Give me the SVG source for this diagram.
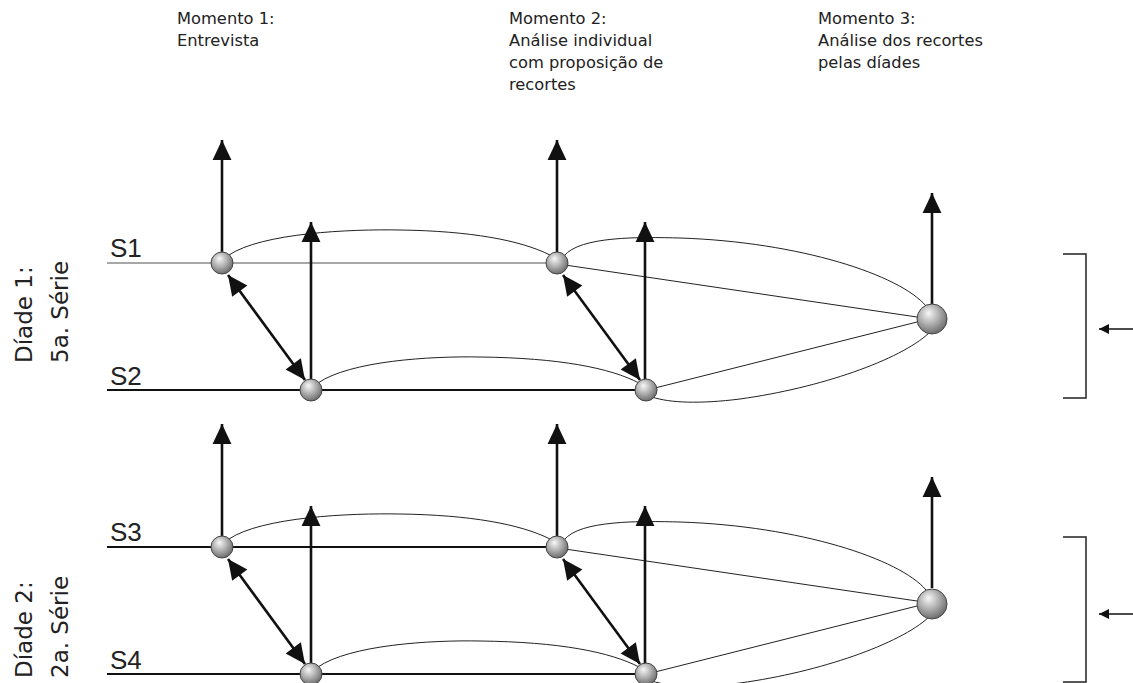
<svg xmlns="http://www.w3.org/2000/svg" width="1133" height="683" viewBox="0 0 1133 683">
<style>
.t{font-family:"DejaVu Sans","Liberation Sans",sans-serif;fill:#222}
.h{font-size:16.3px}
.v{font-size:23px}
.s{font-family:"Liberation Sans",sans-serif;font-size:26px;fill:#222}
.lineA{stroke:#8a8a8a;stroke-width:1.5;fill:none}
.lineB{stroke:#111;stroke-width:2.2;fill:none}
.curve{stroke:#222;stroke-width:1;fill:none}
.arr{stroke:#111;stroke-width:2.6;fill:none;marker-end:url(#ah)}
.darr{stroke:#111;stroke-width:2.6;fill:none;marker-end:url(#ah);marker-start:url(#ahs)}
.br{stroke:#222;stroke-width:1.5;fill:none}
.sm{stroke:#111;stroke-width:1.3;fill:none;marker-end:url(#sh)}
.nd{fill:url(#g);stroke:#444;stroke-width:1}
</style>
<defs>
<radialGradient id="g" cx="0.42" cy="0.38" r="0.7" fx="0.38" fy="0.3">
<stop offset="0" stop-color="#f8f8f8"/>
<stop offset="0.45" stop-color="#b4b4b4"/>
<stop offset="1" stop-color="#5e5e5e"/>
</radialGradient>
<marker id="ah" markerUnits="userSpaceOnUse" markerWidth="22" markerHeight="22" viewBox="-20 -10 21 20" refX="0" refY="0" orient="auto">
<path d="M0,0 L-19,-9 L-19,9 Z" fill="#111"/>
</marker>
<marker id="ahs" markerUnits="userSpaceOnUse" markerWidth="22" markerHeight="22" viewBox="-20 -10 21 20" refX="0" refY="0" orient="auto-start-reverse">
<path d="M0,0 L-19,-9 L-19,9 Z" fill="#111"/>
</marker>
<marker id="sh" markerUnits="userSpaceOnUse" markerWidth="12" markerHeight="12" viewBox="-11 -6 12 12" refX="0" refY="0" orient="auto">
<path d="M0,0 L-10,-5 L-10,5 Z" fill="#111"/>
</marker>
</defs>

<g id="headers" class="t h">
<text x="177" y="24">Momento 1:</text>
<text x="177" y="46">Entrevista</text>
<text x="509" y="24">Momento 2:</text>
<text x="509" y="46">Análise individual</text>
<text x="509" y="68">com proposição de</text>
<text x="509" y="90">recortes</text>
<text x="818" y="24">Momento 3:</text>
<text x="818" y="46">Análise dos recortes</text>
<text x="818" y="68">pelas díades</text>
</g>

<g id="dyad-labels" class="t v">
<text transform="translate(32,363) rotate(-90)">Díade 1:</text>
<text transform="translate(68,363) rotate(-90)">5a. Série</text>
<text transform="translate(32,678) rotate(-90)">Díade 2:</text>
<text transform="translate(68,678) rotate(-90)">2a. Série</text>
</g>

<g id="subject-labels" class="s">
<text x="110" y="257">S1</text>
<text x="110" y="385">S2</text>
<text x="110" y="541">S3</text>
<text x="110" y="669">S4</text>
</g>

<g id="connectors">
<line class="lineA" x1="107" y1="263" x2="557" y2="263"/>
<line class="lineB" x1="107" y1="390" x2="645" y2="390"/>
<path class="curve" d="M229,255 C262,233 350,229 400,230 C470,231 520,240 550,255"/>
<path class="curve" d="M318,383 C350,361 430,356 480,357 C560,358 610,368 639,383"/>
<path class="curve" d="M564,256 C580,236 640,237 680,238 C800,242 900,275 926,306"/>
<line class="curve" x1="565" y1="265" x2="917" y2="317"/>
<line class="curve" x1="655" y1="388" x2="917" y2="322"/>
<path class="curve" d="M652,397 C670,403 700,404 740,399 C820,388 900,360 929,333"/>
<line class="arr" x1="222" y1="252" x2="222" y2="140"/>
<line class="arr" x1="311" y1="380" x2="311" y2="222"/>
<line class="arr" x1="557" y1="252" x2="557" y2="140"/>
<line class="arr" x1="645" y1="380" x2="645" y2="222"/>
<line class="arr" x1="932" y1="304" x2="932" y2="193"/>
<line class="darr" x1="228" y1="275" x2="305" y2="380"/>
<line class="darr" x1="563" y1="275" x2="640" y2="380"/>
<polyline class="br" points="1063,254 1086,254 1086,398 1063,398"/>
<line class="sm" x1="1133" y1="329" x2="1099" y2="329"/>
<line class="lineB" x1="107" y1="547" x2="557" y2="547"/>
<line class="lineB" x1="107" y1="674" x2="645" y2="674"/>
<path class="curve" d="M229,539 C262,517 350,513 400,514 C470,515 520,524 550,539"/>
<path class="curve" d="M318,667 C350,645 430,640 480,641 C560,642 610,652 639,667"/>
<path class="curve" d="M564,540 C580,520 640,521 680,522 C800,526 900,559 926,590"/>
<line class="curve" x1="565" y1="549" x2="917" y2="601"/>
<line class="curve" x1="655" y1="672" x2="917" y2="606"/>
<path class="curve" d="M652,681 C670,687 700,688 740,683 C820,672 900,644 929,617"/>
<line class="arr" x1="222" y1="536" x2="222" y2="424"/>
<line class="arr" x1="311" y1="664" x2="311" y2="506"/>
<line class="arr" x1="557" y1="536" x2="557" y2="424"/>
<line class="arr" x1="645" y1="664" x2="645" y2="506"/>
<line class="arr" x1="932" y1="588" x2="932" y2="477"/>
<line class="darr" x1="228" y1="559" x2="305" y2="664"/>
<line class="darr" x1="563" y1="559" x2="640" y2="664"/>
<polyline class="br" points="1063,537 1086,537 1086,682 1063,682"/>
<line class="sm" x1="1133" y1="614" x2="1099" y2="614"/>
</g>

<g id="n-s1-m1"><circle class="nd" cx="222" cy="263" r="11"/></g>
<g id="n-s2-m1"><circle class="nd" cx="311" cy="390" r="11"/></g>
<g id="n-s1-m2"><circle class="nd" cx="557" cy="263" r="11"/></g>
<g id="n-s2-m2"><circle class="nd" cx="646" cy="390" r="11"/></g>
<g id="n-d1-m3"><circle class="nd" cx="932" cy="319" r="15"/></g>
<g id="n-s3-m1"><circle class="nd" cx="222" cy="547" r="11"/></g>
<g id="n-s4-m1"><circle class="nd" cx="311" cy="674" r="11"/></g>
<g id="n-s3-m2"><circle class="nd" cx="557" cy="547" r="11"/></g>
<g id="n-s4-m2"><circle class="nd" cx="646" cy="674" r="11"/></g>
<g id="n-d2-m3"><circle class="nd" cx="932" cy="604" r="15"/></g>
</svg>
